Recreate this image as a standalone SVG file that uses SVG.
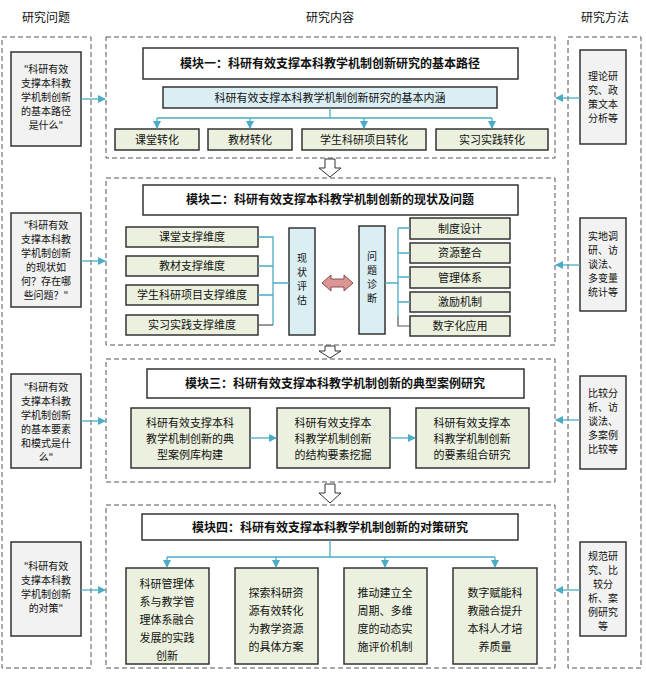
<svg xmlns="http://www.w3.org/2000/svg" width="646" height="673" viewBox="0 0 646 673">
<style>
text{font-family:"Noto Sans CJK SC","Noto Sans",sans-serif;fill:#111;text-anchor:middle}
.h{font-size:12px}
.dash{fill:none;stroke:#555;stroke-width:1;stroke-dasharray:5,3}
.g{fill:#ebf1de;stroke:#333;stroke-width:1.5}
.b{fill:#dbeef4;stroke:#333;stroke-width:1.5}
.q{fill:#f2f2f2;stroke:#333;stroke-width:1.5}
.w{fill:#fff;stroke:#333;stroke-width:1.5}
.t{font-size:12px;font-weight:bold}
.s{font-size:11px}
.sm{font-size:10px}
.c{fill:none;stroke:#4bacc6;stroke-width:1.3}
.da{fill:#fff;stroke:#333;stroke-width:1}
</style>
<defs>
<marker id="a" markerWidth="8" markerHeight="8" refX="7" refY="4" orient="auto" markerUnits="userSpaceOnUse"><path d="M0,0 L8,4 L0,8 Z" fill="#4bacc6"/></marker>
</defs>
<text class="h" x="46" y="22">研究问题</text>
<text class="h" x="330" y="22">研究内容</text>
<text class="h" x="605" y="22">研究方法</text>
<rect class="dash" x="2" y="37" width="89" height="631"/>
<rect class="dash" x="568" y="37" width="73" height="631"/>
<rect class="dash" x="106" y="37" width="449" height="121"/>
<rect class="dash" x="106" y="178" width="449" height="167"/>
<rect class="dash" x="106" y="359" width="449" height="123"/>
<rect class="dash" x="106" y="505" width="449" height="163"/>
<g id="q1"><rect class="q" x="11" y="52" width="70" height="94"/>
<text class="sm"><tspan x="46" y="73">"科研有效</tspan><tspan x="46" y="87">支撑本科教</tspan><tspan x="46" y="101">学机制创新</tspan><tspan x="46" y="115">的基本路径</tspan><tspan x="46" y="129">是什么"</tspan></text></g>
<g id="q2"><rect class="q" x="11" y="213" width="70" height="94"/>
<text class="sm"><tspan x="46" y="229">"科研有效</tspan><tspan x="46" y="243">支撑本科教</tspan><tspan x="46" y="257">学机制创新</tspan><tspan x="46" y="271">的现状如</tspan><tspan x="46" y="285">何？存在哪</tspan><tspan x="46" y="299">些问题？"</tspan></text></g>
<g id="q3"><rect class="q" x="11" y="374" width="70" height="94"/>
<text class="sm"><tspan x="46" y="391">"科研有效</tspan><tspan x="46" y="405">支撑本科教</tspan><tspan x="46" y="419">学机制创新</tspan><tspan x="46" y="433">的基本要素</tspan><tspan x="46" y="447">和模式是什</tspan><tspan x="46" y="461">么"</tspan></text></g>
<g id="q4"><rect class="q" x="11" y="542" width="70" height="94"/>
<text class="sm"><tspan x="46" y="570">"科研有效</tspan><tspan x="46" y="584">支撑本科教</tspan><tspan x="46" y="598">学机制创新</tspan><tspan x="46" y="612">的对策"</tspan></text></g>
<g id="m1"><rect class="q" x="580" y="50" width="46" height="94"/>
<text class="sm"><tspan x="603" y="80">理论研</tspan><tspan x="603" y="94">究、政</tspan><tspan x="603" y="108">策文本</tspan><tspan x="603" y="122">分析等</tspan></text></g>
<g id="m2"><rect class="q" x="580" y="218" width="46" height="93"/>
<text class="sm"><tspan x="603" y="240">实地调</tspan><tspan x="603" y="254">研、访</tspan><tspan x="603" y="268">谈法、</tspan><tspan x="603" y="282">多变量</tspan><tspan x="603" y="296">统计等</tspan></text></g>
<g id="m3"><rect class="q" x="580" y="376" width="46" height="93"/>
<text class="sm"><tspan x="603" y="397">比较分</tspan><tspan x="603" y="411">析、访</tspan><tspan x="603" y="425">谈法、</tspan><tspan x="603" y="439">多案例</tspan><tspan x="603" y="453">比较等</tspan></text></g>
<g id="m4"><rect class="q" x="580" y="542" width="46" height="94"/>
<text class="sm"><tspan x="603" y="560">规范研</tspan><tspan x="603" y="574">究、比</tspan><tspan x="603" y="588">较分</tspan><tspan x="603" y="602">析、案</tspan><tspan x="603" y="616">例研究</tspan><tspan x="603" y="630">等</tspan></text></g>
<g id="t1"><rect class="w" x="143" y="48" width="375" height="31"/><text class="t" x="330" y="68">模块一：科研有效支撑本科教学机制创新研究的基本路径</text></g>
<g id="n1"><rect class="b" x="163" y="87" width="334" height="21"/><text class="s" x="330" y="102">科研有效支撑本科教学机制创新研究的基本内涵</text></g>
<g id="g11"><rect class="g" x="115" y="129" width="84" height="21"/><text class="s" x="157" y="144">课堂转化</text></g>
<g id="g12"><rect class="g" x="208" y="129" width="84" height="21"/><text class="s" x="250" y="144">教材转化</text></g>
<g id="g13"><rect class="g" x="302" y="129" width="124" height="21"/><text class="s" x="364" y="144">学生科研项目转化</text></g>
<g id="g14"><rect class="g" x="436" y="129" width="112" height="21"/><text class="s" x="492" y="144">实习实践转化</text></g>
<g id="t2"><rect class="w" x="143" y="185" width="375" height="30"/><text class="t" x="330" y="204">模块二：科研有效支撑本科教学机制创新的现状及问题</text></g>
<g id="l1"><rect class="g" x="126" y="227" width="132" height="20"/><text class="s" x="192" y="241">课堂支撑维度</text></g>
<g id="l2"><rect class="g" x="126" y="256" width="132" height="20"/><text class="s" x="192" y="270">教材支撑维度</text></g>
<g id="l3"><rect class="g" x="126" y="285" width="132" height="20"/><text class="s" x="192" y="299">学生科研项目支撑维度</text></g>
<g id="l4"><rect class="g" x="126" y="315" width="132" height="20"/><text class="s" x="192" y="329">实习实践支撑维度</text></g>
<g id="xz"><rect class="b" x="289" y="228" width="26" height="107"/><text class="sm"><tspan x="302" y="262">现</tspan><tspan x="302" y="276">状</tspan><tspan x="302" y="290">评</tspan><tspan x="302" y="304">估</tspan></text></g>
<g id="wt"><rect class="b" x="359" y="226" width="26" height="108"/><text class="sm"><tspan x="372" y="260">问</tspan><tspan x="372" y="274">题</tspan><tspan x="372" y="288">诊</tspan><tspan x="372" y="302">断</tspan></text></g>
<g id="r1"><rect class="g" x="410" y="218" width="100" height="21"/><text class="s" x="460" y="233">制度设计</text></g>
<g id="r2"><rect class="g" x="410" y="243" width="100" height="20"/><text class="s" x="460" y="257">资源整合</text></g>
<g id="r3"><rect class="g" x="410" y="267" width="100" height="21"/><text class="s" x="460" y="282">管理体系</text></g>
<g id="r4"><rect class="g" x="410" y="292" width="100" height="20"/><text class="s" x="460" y="306">激励机制</text></g>
<g id="r5"><rect class="g" x="410" y="316" width="100" height="20"/><text class="s" x="460" y="330">数字化应用</text></g>
<g id="t3"><rect class="w" x="147" y="369" width="377" height="29"/><text class="t" x="335" y="388">模块三：科研有效支撑本科教学机制创新的典型案例研究</text></g>
<g id="c1"><rect class="g" x="131" y="408" width="119" height="60"/><text class="s"><tspan x="190" y="427">科研有效支撑本科</tspan><tspan x="190" y="443">教学机制创新的典</tspan><tspan x="190" y="459">型案例库构建</tspan></text></g>
<g id="c2"><rect class="g" x="277" y="408" width="113" height="60"/><text class="s"><tspan x="333" y="427">科研有效支撑本</tspan><tspan x="333" y="443">科教学机制创新</tspan><tspan x="333" y="459">的结构要素挖掘</tspan></text></g>
<g id="c3"><rect class="g" x="416" y="408" width="113" height="60"/><text class="s"><tspan x="472" y="427">科研有效支撑本</tspan><tspan x="472" y="443">科教学机制创新</tspan><tspan x="472" y="459">的要素组合研究</tspan></text></g>
<g id="t4"><rect class="w" x="142" y="514" width="376" height="26"/><text class="t" x="330" y="532">模块四：科研有效支撑本科教学机制创新的对策研究</text></g>
<g id="d1"><rect class="g" x="126" y="568" width="83" height="96"/><text class="s"><tspan x="167" y="588">科研管理体</tspan><tspan x="167" y="606">系与教学管</tspan><tspan x="167" y="624">理体系融合</tspan><tspan x="167" y="642">发展的实践</tspan><tspan x="167" y="660">创新</tspan></text></g>
<g id="d2"><rect class="g" x="235" y="568" width="83" height="96"/><text class="s"><tspan x="276" y="597">探索科研资</tspan><tspan x="276" y="615">源有效转化</tspan><tspan x="276" y="633">为教学资源</tspan><tspan x="276" y="651">的具体方案</tspan></text></g>
<g id="d3"><rect class="g" x="344" y="568" width="83" height="96"/><text class="s"><tspan x="385" y="597">推动建立全</tspan><tspan x="385" y="615">周期、多维</tspan><tspan x="385" y="633">度的动态实</tspan><tspan x="385" y="651">施评价机制</tspan></text></g>
<g id="d4"><rect class="g" x="453" y="568" width="84" height="96"/><text class="s"><tspan x="495" y="597">数字赋能科</tspan><tspan x="495" y="615">教融合提升</tspan><tspan x="495" y="633">本科人才培</tspan><tspan x="495" y="651">养质量</tspan></text></g>
<g id="connectors">
<path class="c" d="M81,99 H105" marker-end="url(#a)"/>
<path class="c" d="M81,261 H105" marker-end="url(#a)"/>
<path class="c" d="M81,421 H105" marker-end="url(#a)"/>
<path class="c" d="M81,590 H105" marker-end="url(#a)"/>
<path class="c" d="M580,98 H556" marker-end="url(#a)"/>
<path class="c" d="M580,265 H556" marker-end="url(#a)"/>
<path class="c" d="M580,420 H556" marker-end="url(#a)"/>
<path class="c" d="M580,590 H556" marker-end="url(#a)"/>
<path class="c" d="M330,108 V118 M157,118 H492"/>
<path class="c" d="M157,118 V128" marker-end="url(#a)"/>
<path class="c" d="M250,118 V128" marker-end="url(#a)"/>
<path class="c" d="M364,118 V128" marker-end="url(#a)"/>
<path class="c" d="M492,118 V128" marker-end="url(#a)"/>
<path class="c" d="M258,237 H273 V325 M258,266 H273 M258,295 H273 M273,283 H289"/>
<path fill="none" stroke="#555" stroke-width="1.2" d="M258,325 H273"/>
<path class="c" d="M385,283 H398 M398,228 V316 M398,228 H410 M398,253 H410 M398,277 H410 M398,302 H410"/>
<path fill="none" stroke="#555" stroke-width="1.2" d="M398,316 V326 H410"/>
<path d="M322,283 L331,275 V279 H344 V275 L353,283 L344,291 V287 H331 V291 Z" fill="#d99694" stroke="#8b4b4a" stroke-width="1"/>
<path class="c" d="M250,438 H276" marker-end="url(#a)"/>
<path class="c" d="M390,438 H415" marker-end="url(#a)"/>
<path class="c" d="M330,540 V557 M167,557 H495"/>
<path class="c" d="M167,557 V567" marker-end="url(#a)"/>
<path class="c" d="M276,557 V567" marker-end="url(#a)"/>
<path class="c" d="M385,557 V567" marker-end="url(#a)"/>
<path class="c" d="M495,557 V567" marker-end="url(#a)"/>
<path class="da" d="M325,159 H335 V168 H341 L330,177 L319,168 H325 Z"/>
<path class="da" d="M325,346 H335 V351 H341 L330,358 L319,351 H325 Z"/>
<path class="da" d="M325,484 H335 V493 H341 L330,503 L319,493 H325 Z"/>
</g>
</svg>
